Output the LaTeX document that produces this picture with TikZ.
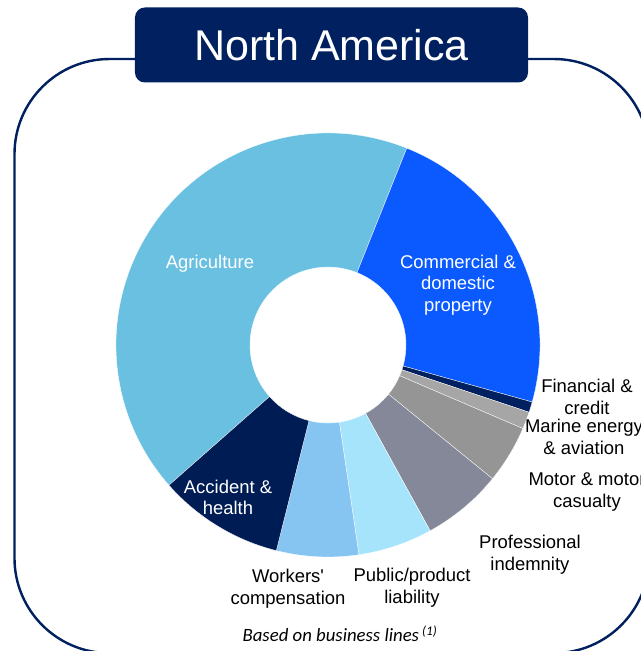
\documentclass[tikz,border=0pt]{standalone}
\usepackage{fontspec}
\setmainfont{Liberation Sans}
\newfontfamily\notefont{Carlito}
\usepackage{tikz}

\definecolor{navy}{HTML}{00205F}
\definecolor{agri}{HTML}{69C0E1}
\definecolor{comm}{HTML}{0A5AFF}
\definecolor{fin}{HTML}{00205F}
\definecolor{marine}{HTML}{A6A6A6}
\definecolor{motor}{HTML}{959595}
\definecolor{prof}{HTML}{858899}
\definecolor{publ}{HTML}{A6E4FC}
\definecolor{workers}{HTML}{86C5F2}
\definecolor{accid}{HTML}{001C54}

\tikzset{
  lbl/.style={align=center,font=\fontsize{17.5}{20.6}\selectfont},
  inlbl/.style={lbl,text=white},
}

\begin{document}
\begin{tikzpicture}
			      \useasboundingbox (-10.933,-10.2) rectangle (10.433,11.5);

			      % Frame
			      \draw[navy,line width=2.3pt,rounded corners=3.17cm] (-10.45,-10.27) rectangle (10.7,9.533);

			      % Title
			      \node[fill=navy,rounded corners=0.33cm,minimum width=13.1cm,minimum height=2.5cm,
			        text=white,font=\fontsize{40.8}{48}\selectfont] (title) at (0.117,10.0) {North America};

			      % Donut
			      \def\Rout{7.067}
			      \def\Rin{2.6}
			      \def\slice#1#2#3{\fill[#3,draw=white,line width=0.3pt] (#1:\Rin) -- (#1:\Rout)
			        arc[start angle=#1,end angle=#2,radius=\Rout] -- (#2:\Rin)
			        arc[start angle=#2,end angle=#1,radius=\Rin] -- cycle;}

			      % Agriculture
			      \slice{68.2}{221.4}{agri}
			      % Commercial & domestic property
			      \slice{-15.6}{68.2}{comm}
			      % Financial & credit
			      \slice{-18.5}{-15.6}{fin}
			      % Marine energy & aviation
			      \slice{-23.2}{-18.5}{marine}
			      % Motor & motor casualty
			      \slice{-39.1}{-23.2}{motor}
			      % Professional indemnity
			      \slice{-61.2}{-39.1}{prof}
			      % Public/product liability
			      \slice{-81.6}{-61.2}{publ}
			      % Workers' compensation
			      \slice{-104.1}{-81.6}{workers}
			      % Accident & health
			      \slice{-138.6}{-104.1}{accid}

			      % Labels
			      \node[inlbl] (agri) at (-3.933,2.7) {Agriculture};
			      \node[inlbl] (comm) at (4.333,2.0) {Commercial \&\\domestic\\property};
			      \node[inlbl] (accid) at (-3.333,-5.08) {Accident \&\\health};
			      \node[lbl] (workers) at (-1.333,-8.12) {Workers\textquotesingle\\compensation};
			      \node[lbl] (publ) at (2.8,-8.09) {Public/product\\liability};
			      \node[lbl] (prof) at (6.733,-6.99) {Professional\\indemnity};
			      \node[lbl] (motor) at (8.633,-4.89) {Motor \& motor\\casualty};
			      \node[lbl] (marine) at (8.533,-3.07) {Marine energy\\\& aviation};
			      \node[lbl] (fin) at (8.633,-1.74) {Financial \&\\credit};

			      % Note
			      \node[font=\notefont\itshape\fontsize{17.8}{20}\selectfont] (note) at (0.4,-9.62)
			        {Based on business lines\,\textsuperscript{(1)}};
		      \end{tikzpicture}
\end{document}
